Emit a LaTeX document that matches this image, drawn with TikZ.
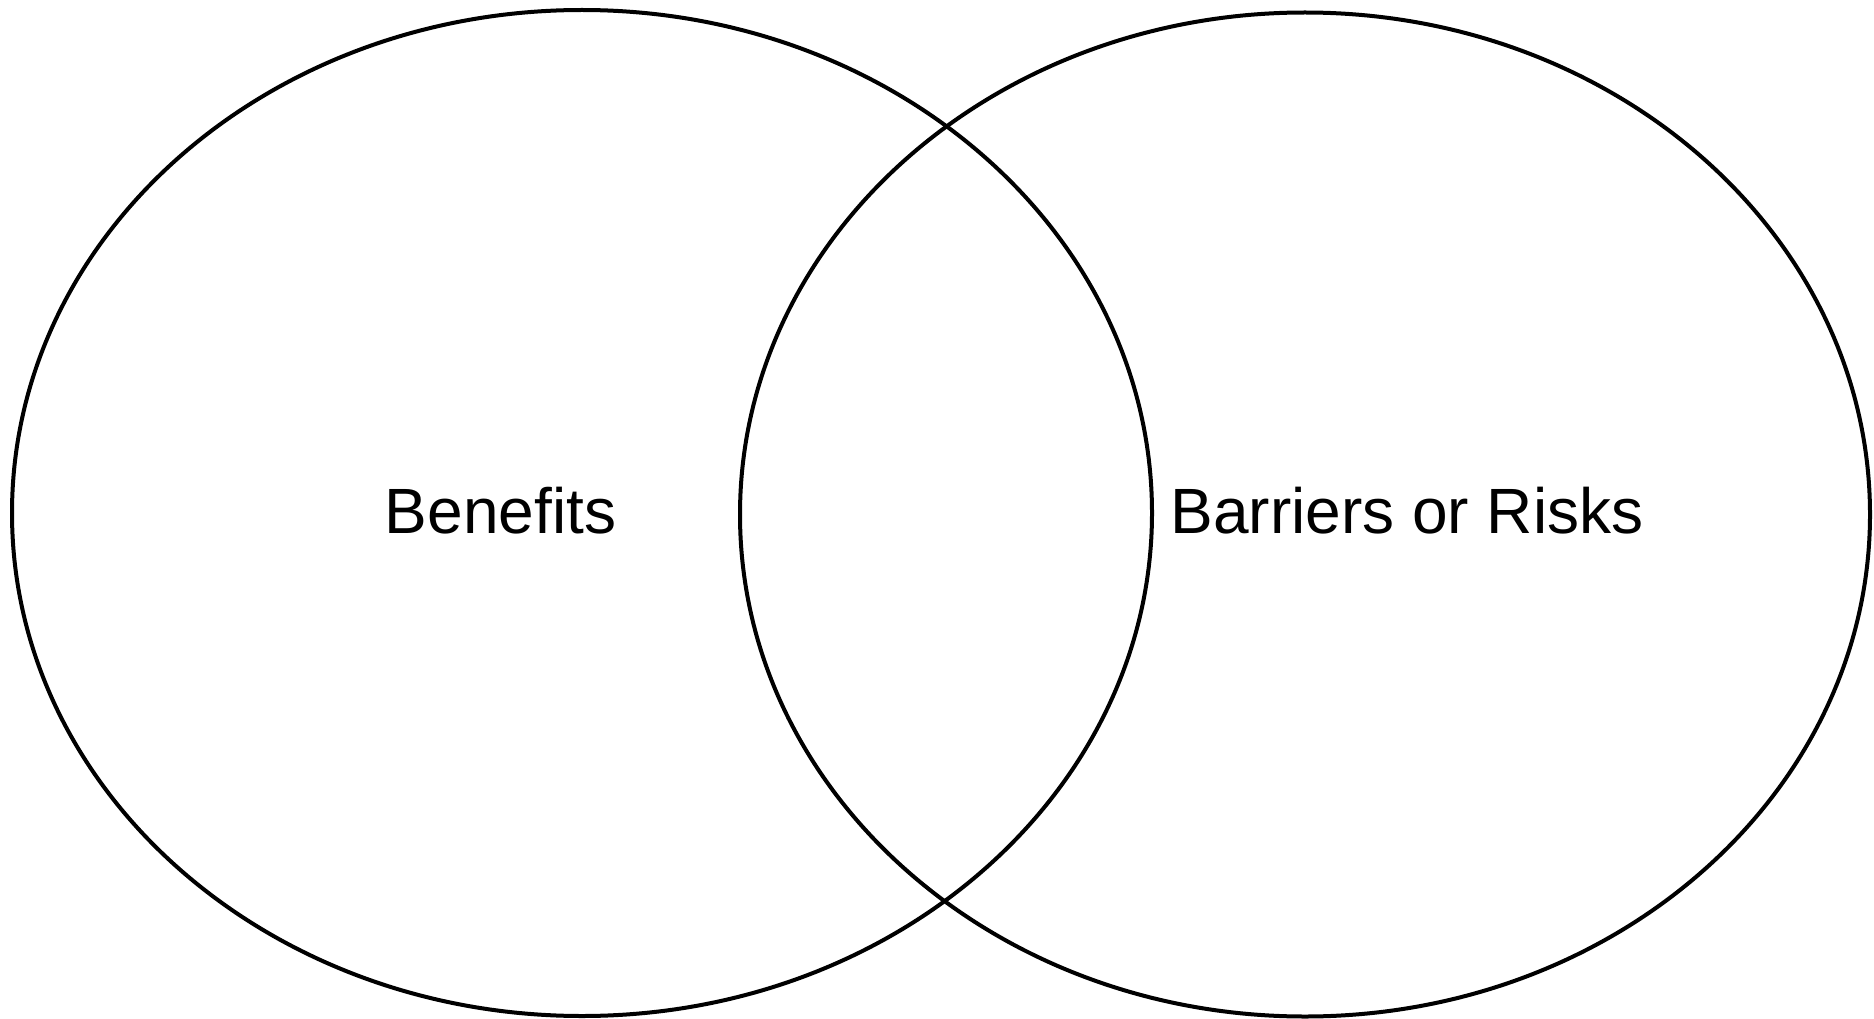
\documentclass[tikz,border=0pt]{standalone}
\usepackage{fontspec}
\setmainfont{Liberation Sans}
\begin{document}
\begin{tikzpicture}[x=1pt,y=-1pt,
  ring/.style={draw=black,line width=4pt},
  label/.style={anchor=base,inner sep=0pt,font=\fontsize{64}{76}\selectfont}]
\useasboundingbox (0,0) rectangle (1874,1019);
\draw[ring] (582,513) ellipse [x radius=570, y radius=503];
\draw[ring] (1305,514.5) ellipse [x radius=565, y radius=502];
\node[label] (benefits) at (500.5,533) {Benefits};
\node[label] (barriers) at (1407,533) {Barriers or Risks};
\end{tikzpicture}
\end{document}
